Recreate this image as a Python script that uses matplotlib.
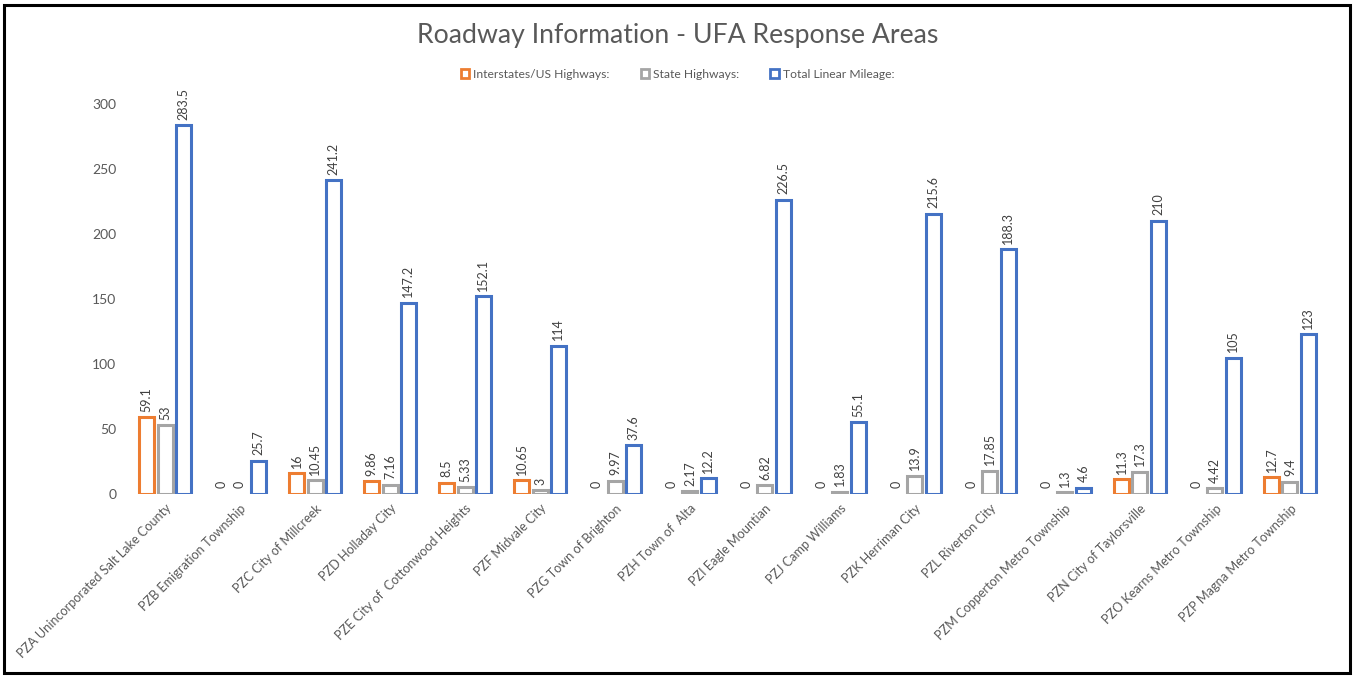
import matplotlib
matplotlib.use("Agg")
import matplotlib.pyplot as plt
from matplotlib.patches import Rectangle
import numpy as np

categories = [
    "PZA Unincorporated Salt Lake County", "PZB Emigration Township",
    "PZC City of Millcreek", "PZD Holladay City", "PZE City of  Cottonwood Heights",
    "PZF Midvale City", "PZG Town of Brighton", "PZH Town of  Alta",
    "PZI Eagle Mountian", "PZJ Camp Williams", "PZK Herriman City",
    "PZL Riverton City", "PZM Copperton Metro Township", "PZN City of Taylorsville",
    "PZO Kearns Metro Township", "PZP Magna Metro Township",
]
interstates = [59.1, 0, 16, 9.86, 8.5, 10.65, 0, 0, 0, 0, 0, 0, 0, 11.3, 0, 12.7]
state_hwy = [53, 0, 10.45, 7.16, 5.33, 3, 9.97, 2.17, 6.82, 1.83, 13.9, 17.85, 1.3, 17.3, 4.42, 9.4]
total_miles = [283.5, 25.7, 241.2, 147.2, 152.1, 114, 37.6, 12.2, 226.5, 55.1, 215.6, 188.3, 4.6, 210, 105, 123]
series_names = ["Interstates/US Highways:", "State Highways:", "Total Linear Mileage:"]
colors = ["#ED7D31", "#A5A5A5", "#4472C4"]

plt.rcParams['font.family'] = ['Lato', 'DejaVu Sans']
fig = plt.figure(figsize=(13.55, 6.77), dpi=100)
ax = fig.add_axes([0.0941, 0.2703, 0.8856, 0.5761])

x = np.arange(len(categories))
width = 0.2
offsets = [-0.245, 0, 0.245]
text_col = "#595959"
label_col = "#404040"
for vals, off, col in zip([interstates, state_hwy, total_miles], offsets, colors):
    lws = [0 if v == 0 else 2.2 for v in vals]
    bars = ax.bar(x + off, vals, width, facecolor="white", edgecolor=col, linewidth=lws)
    for b, v in zip(bars, vals):
        ax.annotate(f"{v:g}", (b.get_x() + b.get_width() / 2, v), xytext=(0, 4),
                    textcoords="offset points", rotation=90, ha="center", va="bottom",
                    fontsize=9, color=label_col, annotation_clip=False)

ax.set_xlim(-0.5, len(categories) - 0.5)
ax.set_ylim(0, 300)
ax.set_yticks([0, 50, 100, 150, 200, 250, 300])
ax.tick_params(axis="y", length=0, labelsize=10, labelcolor=text_col, pad=8)
ax.tick_params(axis="x", length=0, pad=6)
ax.set_xticks(x)
ax.set_xticklabels(categories, rotation=45, ha="right", rotation_mode="anchor",
                   fontsize=9.1, color=text_col)
for s in ax.spines.values():
    s.set_visible(False)

fig.text(0.5, 1 - 36 / 677, "Roadway Information - UFA Response Areas", ha="center", va="center",
         fontsize=19.2, color=text_col)

handles = [Rectangle((0, 0), 1, 1, facecolor="white", edgecolor=c, linewidth=2) for c in colors]
fig.legend(handles, series_names, loc="center", bbox_to_anchor=(0.5, 1 - 74 / 677), ncol=3,
           frameon=False, fontsize=8.7, labelcolor=text_col, handlelength=0.7, handleheight=0.7,
           handletextpad=0.3, columnspacing=2.6)

fig.patches.append(Rectangle((4 / 1355, 4 / 677), 1346 / 1355, 668 / 677, transform=fig.transFigure,
                             fill=False, edgecolor="black", linewidth=2.2))

fig.savefig("out.png", dpi=100)
